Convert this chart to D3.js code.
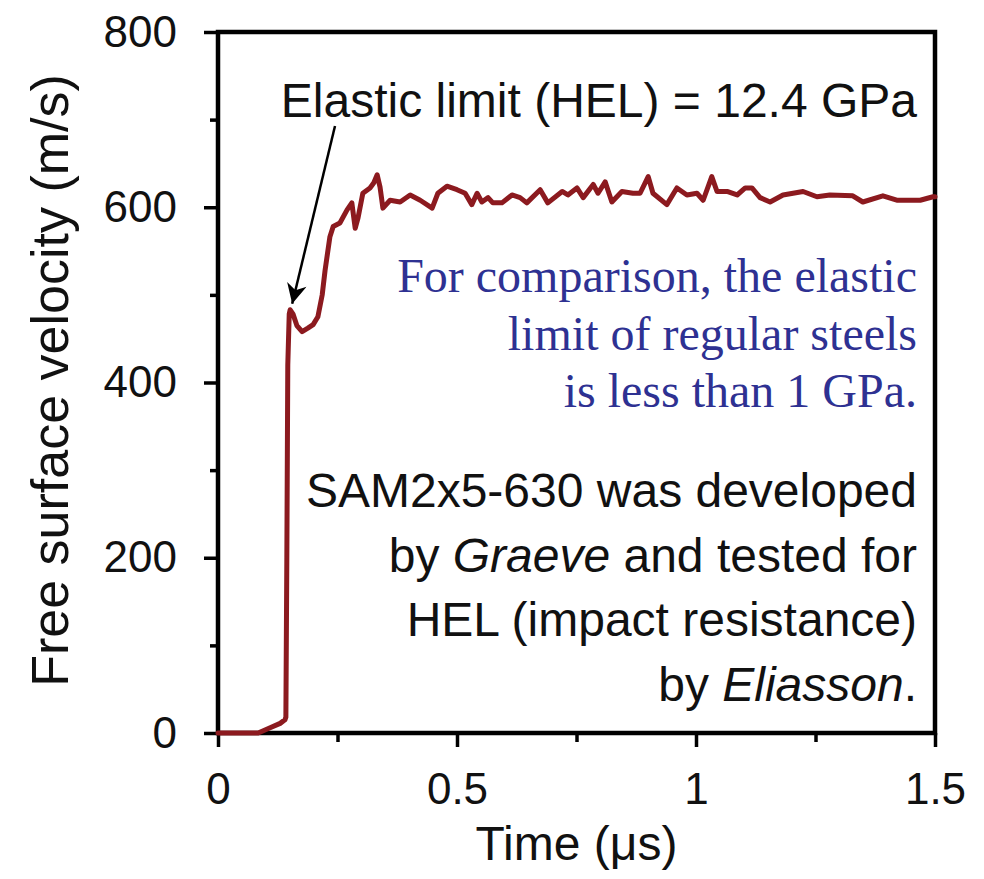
<!DOCTYPE html>
<html>
<head>
<meta charset="utf-8">
<script src="https://cdn.jsdelivr.net/npm/d3@7"></script>
<style>
  html, body { margin: 0; padding: 0; background: #fff; }
  svg { display: block; font-family: "Liberation Sans", Arial, sans-serif; }
  .tick text { font-size: 44px; fill: #111; }
  .tick line { stroke: #000; stroke-width: 3.5; }
</style>
</head>
<body>
<svg id="chart" width="984" height="879"></svg>
<script>
// time (µs) and free surface velocity (m/s)
const time = [
  0, 0.084, 0.109, 0.13, 0.14, 0.142, 0.144, 0.146, 0.149, 0.151,
  0.157, 0.165, 0.176, 0.188, 0.199, 0.209, 0.218, 0.224, 0.234, 0.241,
  0.255, 0.27, 0.28, 0.287, 0.293, 0.303, 0.318, 0.326, 0.333, 0.339,
  0.345, 0.36, 0.381, 0.402, 0.423, 0.448, 0.46, 0.479, 0.5, 0.517,
  0.531, 0.542, 0.552, 0.565, 0.575, 0.594, 0.615, 0.632, 0.646, 0.674,
  0.69, 0.72, 0.732, 0.751, 0.764, 0.785, 0.795, 0.81, 0.824, 0.845,
  0.868, 0.883, 0.9, 0.91, 0.939, 0.96, 0.981, 1.002, 1.015, 1.033,
  1.044, 1.065, 1.086, 1.103, 1.117, 1.134, 1.155, 1.182, 1.224, 1.253,
  1.28, 1.328, 1.349, 1.391, 1.42, 1.469, 1.496, 1.5,
];
const velocity = [
  0, 0, 6, 11, 15, 18, 200, 420, 478, 483,
  478, 465, 458, 462, 466, 475, 500, 528, 566, 578,
  582, 597, 605, 576, 588, 616, 622, 628, 637, 623,
  599, 608, 606, 614, 608, 599, 616, 624, 620, 616,
  603, 616, 606, 611, 605, 605, 614, 611, 605, 620,
  605, 618, 614, 622, 611, 626, 616, 629, 606, 618,
  616, 616, 635, 616, 603, 622, 614, 616, 608, 635,
  618, 618, 614, 622, 622, 611, 606, 614, 618, 612,
  614, 613, 606, 613, 608, 608, 612, 612,
];

const xMajor = [0, 0.5, 1, 1.5];
const xMinor = [0.25, 0.75, 1.25];
const yMajor = [0, 200, 400, 600, 800];
const yMinor = [100, 300, 500, 700];

const helLabel = "Elastic limit (HEL) = 12.4 GPa";
const helPoint = { t: 0.151, v: 483 };
const noteBlue = [
  "For comparison, the elastic",
  "limit of regular steels",
  "is less than 1 GPa.",
];
// each line is a list of [text, italic] runs
const noteBlack = [
  [["SAM2x5-630 was developed", false]],
  [["by ", false], ["Graeve", true], [" and tested for", false]],
  [["HEL (impact resistance)", false]],
  [["by ", false], ["Eliasson", true], [".", false]],
];

const data = time.map((t, i) => ({ t, v: velocity[i] }));

const marginLeft = 218;
const marginRight = 49;
const marginTop = 32;
const marginBottom = 146;
const width = 984;
const height = 879;

const x = d3.scaleLinear().domain([0, 1.5]).range([marginLeft, width - marginRight]);
const y = d3.scaleLinear().domain([0, 800]).range([height - marginBottom, marginTop]);

const svg = d3.select("#chart");

/**
 * Axes
 */
svg
  .append("g")
  .attr("transform", `translate(0,${y(0)})`)
  .call(d3.axisBottom(x).tickValues(xMinor).tickSize(9).tickFormat(""))
  .call((g) => g.select(".domain").remove());

svg
  .append("g")
  .attr("transform", `translate(0,${y(0)})`)
  .call(
    d3.axisBottom(x).tickValues(xMajor).tickSize(14).tickPadding(26)
      .tickFormat((d) => d3.format("")(d))
  )
  .call((g) => g.select(".domain").remove());

svg
  .append("g")
  .attr("transform", `translate(${x(0)},0)`)
  .call(d3.axisLeft(y).tickValues(yMinor).tickSize(8).tickFormat(""))
  .call((g) => g.select(".domain").remove());

svg
  .append("g")
  .attr("transform", `translate(${x(0)},0)`)
  .call(d3.axisLeft(y).tickValues(yMajor).tickSize(14).tickPadding(27))
  .call((g) => g.select(".domain").remove());

svg
  .append("rect")
  .attr("x", x(0))
  .attr("y", y(800))
  .attr("width", x(1.5) - x(0))
  .attr("height", y(0) - y(800))
  .attr("fill", "none")
  .attr("stroke", "#000")
  .attr("stroke-width", 4.5);

svg
  .append("text")
  .attr("x", (x(0) + x(1.5)) / 2)
  .attr("y", 860)
  .attr("text-anchor", "middle")
  .attr("font-size", 48)
  .attr("fill", "#111")
  .text("Time (\u03bcs)");

svg
  .append("text")
  .attr("transform", `translate(68,${(y(0) + y(800)) / 2 - 2}) rotate(-90)`)
  .attr("text-anchor", "middle")
  .attr("font-size", 52)
  .attr("fill", "#111")
  .text("Free surface velocity (m/s)");

/**
 * Trace
 */
const line = d3.line().x((d) => x(d.t)).y((d) => y(d.v));

svg
  .append("path")
  .datum(data)
  .attr("d", line)
  .attr("fill", "none")
  .attr("stroke", "#8c1a1f")
  .attr("stroke-width", 5)
  .attr("stroke-linejoin", "round")
  .attr("stroke-linecap", "round");

/**
 * Annotations
 */
svg
  .append("defs")
  .append("marker")
  .attr("id", "arrow")
  .attr("viewBox", "0 0 10 10")
  .attr("refX", 10)
  .attr("refY", 5)
  .attr("markerWidth", 22)
  .attr("markerHeight", 20)
  .attr("markerUnits", "userSpaceOnUse")
  .attr("orient", "auto")
  .append("path")
  .attr("d", "M0,0L10,5L0,10L3,5Z")
  .attr("fill", "#000");

svg
  .append("text")
  .attr("x", 917)
  .attr("y", 117)
  .attr("text-anchor", "end")
  .attr("font-size", 48)
  .attr("fill", "#111")
  .text(helLabel);

svg
  .append("line")
  .attr("x1", 335)
  .attr("y1", 126)
  .attr("x2", x(helPoint.t) + 2)
  .attr("y2", y(helPoint.v) - 6)
  .attr("stroke", "#000")
  .attr("stroke-width", 2.5)
  .attr("marker-end", "url(#arrow)");

svg
  .append("g")
  .attr("font-family", '"Liberation Serif", "Times New Roman", serif')
  .attr("font-size", 48)
  .attr("fill", "#2e3192")
  .attr("text-anchor", "end")
  .selectAll("text")
  .data(noteBlue)
  .join("text")
  .attr("x", 917)
  .attr("y", (d, i) => 292 + i * 57.5)
  .text((d) => d);

svg
  .append("g")
  .attr("font-size", 48)
  .attr("fill", "#111")
  .attr("text-anchor", "end")
  .selectAll("text")
  .data(noteBlack)
  .join("text")
  .attr("x", 917)
  .attr("y", (d, i) => 507 + i * 64.5)
  .call((t) =>
    t
      .selectAll("tspan")
      .data((d) => d)
      .join("tspan")
      .attr("font-style", (d) => (d[1] ? "italic" : "normal"))
      .text((d) => d[0])
  );
</script>
</body>
</html>
